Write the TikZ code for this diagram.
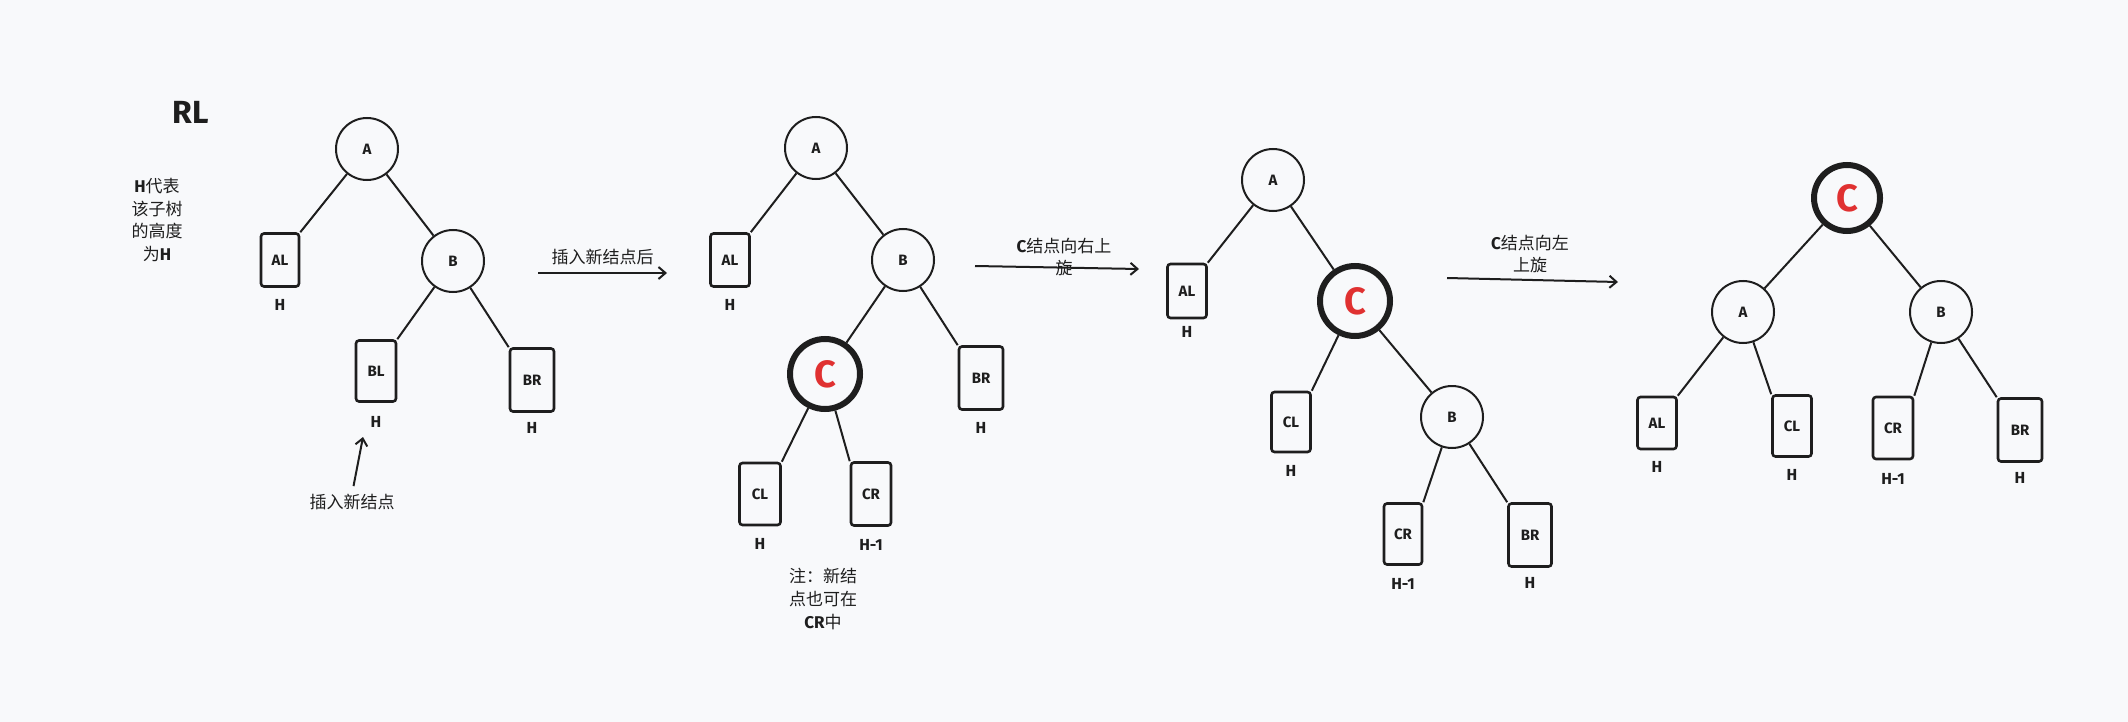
\documentclass[tikz,border=0pt]{standalone}
\usepackage{fontspec}
\setmainfont{Fira Sans}
\newfontfamily\zh{Noto Sans CJK SC}
\usetikzlibrary{arrows.meta,positioning}
\definecolor{avlbg}{HTML}{F8F9FB}
\definecolor{avlink}{HTML}{1E1E1E}
\definecolor{avlred}{HTML}{E03131}
\newcommand\lat[1]{{\normalfont\bfseries #1}}
\tikzset{
  avlnode/.style={draw=avlink, circle, line width=2pt, minimum size=62pt, inner sep=0pt, font=\bfseries\fontsize{15}{15}\selectfont, text=avlink},
  avlnew/.style={avlnode, line width=6pt, minimum size=70pt, font=\bfseries\fontsize{38}{38}\selectfont, text=avlred},
  avlsub/.style={draw=avlink, rounded corners=3pt, line width=2.6pt, minimum width=40pt, minimum height=60pt, inner sep=0pt, font=\bfseries\fontsize{15}{15}\selectfont, text=avlink},
  avlh/.style={inner sep=0pt, font=\bfseries\fontsize{16}{16}\selectfont, text=avlink},
  avltext/.style={align=center, inner sep=0pt, font=\zh\fontsize{17}{22.8}\selectfont, text=avlink},
  avledge/.style={draw=avlink, line width=2pt},
  avlarrow/.style={draw=avlink, line width=2pt, -{Straight Barb[length=7pt,width=12pt]}}
}
\begin{document}
\begin{tikzpicture}[x=1pt, y=-1pt, node distance=11pt]
\fill[avlbg] (0,0) rectangle (2128,722);
\node[font=\bfseries\fontsize{32}{32}\selectfont, text=avlink] (title) at (191,112) {RL};
\node[avltext] (legend) at (157,220) {\lat{H}代表\\该子树\\的高度\\为\lat{H}};

% tree 1: before insertion
\node[avlnode] (A1) at (367,149) {A};
\node[avlnode] (B1) at (453,261) {B};
\node[avlsub, minimum width=38pt, minimum height=53pt] (AL1) at (280,260) {AL};
\node[avlsub, minimum height=61pt] (BL1) at (376,371) {BL};
\node[avlsub, minimum width=44pt, minimum height=63pt] (BR1) at (532,380) {BR};
\node[avlh, below=of AL1] (hAL1) {H};
\node[avlh, below=13pt of BL1] (hBL1) {H};
\node[avlh, below=9pt of BR1] (hBR1) {H};
\draw[avledge] (A1) -- (AL1.north east);
\draw[avledge] (A1) -- (B1);
\draw[avledge] (B1) -- (BL1.north east);
\draw[avledge] (B1) -- (BR1.north west);
\node[avltext] (insText) at (352,502) {插入新结点};
\coordinate (insTip) at (363,437);
\draw[avlarrow, shorten <=8pt] (insText.north) -- (insTip);

% step 1
\coordinate (ar1s) at (538,273);
\coordinate (ar1e) at (667,273);
\draw[avlarrow] (ar1s) -- node[avltext, above=7pt] (lab1) {插入新结点后} (ar1e);

% tree 2: after insertion
\node[avlnode] (A2) at (816,148) {A};
\node[avlnode] (B2) at (903,260) {B};
\node[avlnew] (C2) at (825,374) {C};
\node[avlsub, minimum width=39pt, minimum height=53pt] (AL2) at (730,260) {AL};
\node[avlsub, minimum width=44pt, minimum height=63pt] (BR2) at (981,378) {BR};
\node[avlsub, minimum width=41pt, minimum height=62pt] (CL2) at (760,494) {CL};
\node[avlsub, minimum width=40pt, minimum height=63pt] (CR2) at (871,494) {CR};
\node[avlh, below=of AL2] (hAL2) {H};
\node[avlh, below=of BR2] (hBR2) {H};
\node[avlh, below=12pt of CL2] (hCL2) {H};
\node[avlh, below=12pt of CR2] (hCR2) {H-1};
\draw[avledge] (A2) -- (AL2.north east);
\draw[avledge] (A2) -- (B2);
\draw[avledge] (B2) -- (C2);
\draw[avledge] (B2) -- (BR2.north west);
\draw[avledge] (C2) -- (CL2.north east);
\draw[avledge] (C2) -- (CR2.north west);
\node[avltext] (note2) at (823,599) {注：新结\\点也可在\\\lat{CR}中};

% step 2
\coordinate (ar2s) at (975,266);
\coordinate (ar2e) at (1139,269);
\draw[avlarrow] (ar2s) -- (ar2e);
\node[avltext] (lab2) at (1064,257) {\lat{C}结点向右上\\旋};

% tree 3: right rotation at B
\node[avlnode] (A3) at (1273,180) {A};
\node[avlnew] (C3) at (1355,301) {C};
\node[avlnode] (B3) at (1452,417) {B};
\node[avlsub, minimum width=39pt, minimum height=54pt] (AL3) at (1187,291) {AL};
\node[avlsub, minimum width=39pt] (CL3) at (1291,422) {CL};
\node[avlsub, minimum width=38pt, minimum height=61pt] (CR3) at (1403,534) {CR};
\node[avlsub, minimum width=43pt, minimum height=63pt] (BR3) at (1530,535) {BR};
\node[avlh, below=7pt of AL3] (hAL3) {H};
\node[avlh, below=12pt of CL3] (hCL3) {H};
\node[avlh, below=12pt of CR3] (hCR3) {H-1};
\node[avlh, below=9pt of BR3] (hBR3) {H};
\draw[avledge] (A3) -- (AL3.north east);
\draw[avledge] (A3) -- (C3);
\draw[avledge] (C3) -- (CL3.north east);
\draw[avledge] (C3) -- (B3);
\draw[avledge] (B3) -- (CR3.north east);
\draw[avledge] (B3) -- (BR3.north west);

% step 3
\coordinate (ar3s) at (1447,278);
\coordinate (ar3e) at (1618,282);
\draw[avlarrow] (ar3s) -- (ar3e);
\node[avltext] (lab3) at (1530,254) {\lat{C}结点向左\\上旋};

% tree 4: left rotation at A
\node[avlnew, minimum size=66pt] (C4) at (1847,198) {C};
\node[avlnode] (A4) at (1743,312) {A};
\node[avlnode] (B4) at (1941,312) {B};
\node[avlsub, minimum width=39pt, minimum height=52pt] (AL4) at (1657,423) {AL};
\node[avlsub, minimum width=39pt, minimum height=61pt] (CL4) at (1792,426) {CL};
\node[avlsub, minimum height=62pt] (CR4) at (1893,428) {CR};
\node[avlsub, minimum width=44pt, minimum height=63pt] (BR4) at (2020,430) {BR};
\node[avlh, below=of AL4] (hAL4) {H};
\node[avlh, below=of CL4] (hCL4) {H};
\node[avlh, below=13pt of CR4] (hCR4) {H-1};
\node[avlh, below=9pt of BR4] (hBR4) {H};
\draw[avledge] (C4) -- (A4);
\draw[avledge] (C4) -- (B4);
\draw[avledge] (A4) -- (AL4.north east);
\draw[avledge] (A4) -- (CL4.north west);
\draw[avledge] (B4) -- (CR4.north east);
\draw[avledge] (B4) -- (BR4.north west);
\end{tikzpicture}
\end{document}
